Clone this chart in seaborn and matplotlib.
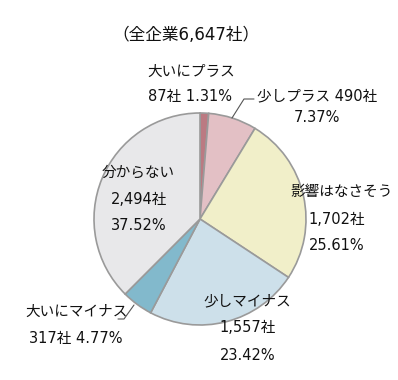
import numpy as np
import matplotlib
matplotlib.use("Agg")
import matplotlib.pyplot as plt
import seaborn as sns

# data
categories = ["大いにプラス", "少しプラス", "影響はなさそう", "少しマイナス", "大いにマイナス", "分からない"]
counts = [87, 490, 1702, 1557, 317, 2494]
percents = [1.31, 7.37, 25.61, 23.42, 4.77, 37.52]
total = 6647
slice_colors = ["#bb7a82", "#e3c0c5", "#f1efc9", "#cde0ea", "#82b9cc", "#e8e8ea"]

sns.set_theme(style="white")
# wide latin digits first, CJK glyphs fall back to Noto
plt.rcParams["font.family"] = ["DejaVu Sans", "Noto Sans CJK JP"]

W, H = 398, 380
fig = plt.figure(figsize=(W / 100, H / 100), dpi=100)
ax = fig.add_axes([0, 0, 1, 1])

# pixel position helper (y measured from the top)
def P(x, y):
    return x, H - y

palette = sns.color_palette(slice_colors)
ax.pie(counts, colors=palette, startangle=90, counterclock=False,
       center=P(200, 219), radius=106,
       wedgeprops=dict(edgecolor="#9a9a9a", linewidth=1.2))

# pie() resets the limits, so set them afterwards
ax.set_xlim(0, W)
ax.set_ylim(0, H)
ax.set_aspect("equal")
ax.axis("off")

txt = "#111111"
ax.text(*P(186, 35), "（全企業{:,}社）".format(total), ha="center", va="center",
        fontsize=12, color=txt)

def fmt_n(i):
    return "{:,}社".format(counts[i])

def fmt_p(i):
    return "{:.2f}%".format(percents[i])

# label lines: (text, x, y) in pixels
lines = [
    (categories[0], 191, 71),
    (fmt_n(0) + " " + fmt_p(0), 190, 96),
    (categories[1] + " " + fmt_n(1), 317, 96),
    (fmt_p(1), 317, 118),
    (categories[2], 342, 191),
    (fmt_n(2), 337, 219),
    (fmt_p(2), 337, 246),
    (categories[3], 247, 301),
    (fmt_n(3), 248, 328),
    (fmt_p(3), 248, 355),
    (categories[4], 77, 311),
    (fmt_n(4) + " " + fmt_p(4), 76, 338),
    (categories[5], 138, 172),
    (fmt_n(5), 139, 199),
    (fmt_p(5), 139, 226),
]
for s, x, y in lines:
    ax.text(*P(x, y), s, ha="center", va="center", fontsize=10.5, color=txt)

# leader lines
lx, ly = zip(P(254, 99), P(244, 99), P(232, 118))
ax.plot(lx, ly, color="#555555", lw=0.8)
lx, ly = zip(P(118, 319), P(124, 319), P(134, 305))
ax.plot(lx, ly, color="#555555", lw=0.8)

fig.savefig("out.png", dpi=100, facecolor="white")
